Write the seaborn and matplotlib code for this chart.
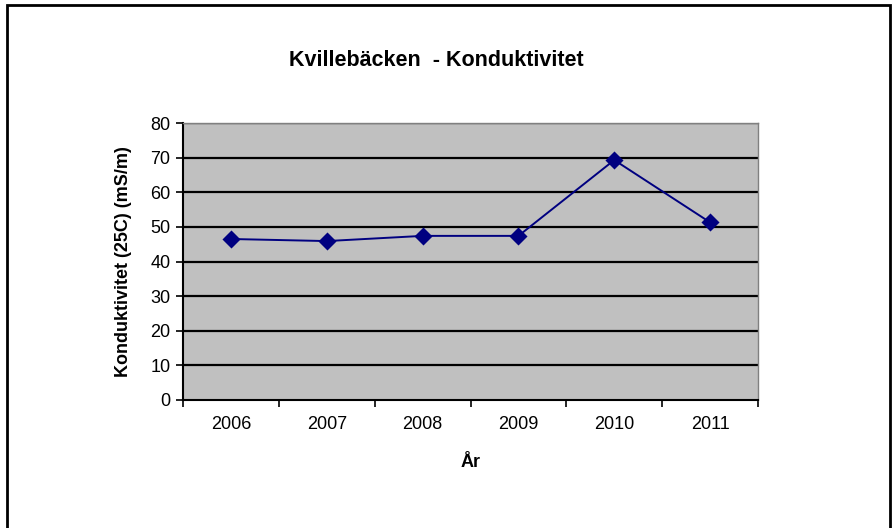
import matplotlib
matplotlib.use("Agg")
import matplotlib.pyplot as plt
import seaborn as sns
import pandas as pd
from matplotlib.patches import Rectangle
from matplotlib.ticker import FixedLocator

years = ["2006", "2007", "2008", "2009", "2010", "2011"]
values = [46.5, 45.9, 47.4, 47.4, 69.3, 51.3]
yticks = [0, 10, 20, 30, 40, 50, 60, 70, 80]

sns.set_theme(style="white")
plt.rcParams['font.family'] = ['Liberation Sans', 'DejaVu Sans']
plt.rcParams['text.color'] = 'black'
plt.rcParams['axes.labelcolor'] = 'black'
plt.rcParams['xtick.color'] = 'black'
plt.rcParams['ytick.color'] = 'black'

df = pd.DataFrame({"year": years, "value": values})

fig = plt.figure(figsize=(8.96, 5.28), dpi=100)
ax = fig.add_axes([183/896, 1 - 400/528, (758-183)/896, (400-123)/528])
ax.set_facecolor("#c0c0c0")

sns.pointplot(data=df, x="year", y="value", ax=ax, color="#000080",
              markers="D", markersize=8, linewidth=1.4, errorbar=None)

ax.set_xlim(-0.5, 5.5)
ax.set_ylim(0, 80)
ax.set_yticks(yticks)
ax.set_yticklabels([str(t) for t in yticks], fontsize=13)
ax.set_xticks(range(len(years)))
ax.set_xticklabels(years, fontsize=13)
ax.tick_params(axis="x", which="major", length=0, pad=11.5)
ax.xaxis.set_minor_locator(FixedLocator([i - 0.5 for i in range(len(years) + 1)]))
ax.tick_params(axis="x", which="minor", length=5, width=1.2, color="black", direction="out", bottom=True)
ax.tick_params(axis="y", which="major", length=5, width=1.2, color="black", direction="out", left=True, pad=4)

for t in yticks[1:]:
    ax.axhline(t, color="black", linewidth=1.6, zorder=0.5)

for s in ["left", "bottom"]:
    ax.spines[s].set_color("black")
    ax.spines[s].set_linewidth(1.5)
for s in ["top", "right"]:
    ax.spines[s].set_color("#808080")
    ax.spines[s].set_linewidth(1.0)

ax.set_xlabel("År", fontsize=13, fontweight="bold", labelpad=15)
ax.set_ylabel("Konduktivitet (25C) (mS/m)", fontsize=13, fontweight="bold", labelpad=13)

fig.text(436/896, 1 - 60/528, "Kvillebäcken  - Konduktivitet", ha="center", va="center",
         fontsize=15.5, fontweight="bold", color="black")

frame = Rectangle((7/896, -0.05), (890-7)/896, 1.05 - 5/528, transform=fig.transFigure,
                  fill=False, edgecolor="black", linewidth=2)
fig.patches.append(frame)

fig.savefig("out.png", dpi=100)
